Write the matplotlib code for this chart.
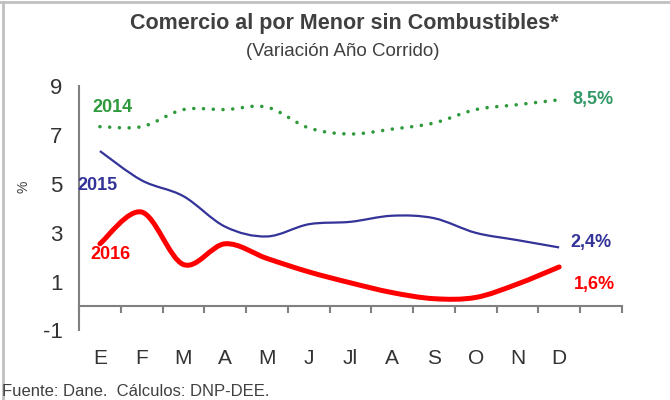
import matplotlib.pyplot as plt
import numpy as np
from matplotlib.path import Path
from matplotlib.patches import PathPatch
from matplotlib.lines import Line2D

plt.rcParams['font.family'] = ['Liberation Sans', 'DejaVu Sans']
plt.rcParams['axes.unicode_minus'] = False

meses = ['E', 'F', 'M', 'A', 'M', 'J', 'Jl', 'A', 'S', 'O', 'N', 'D']
v2014 = [7.35, 7.35, 8.05, 8.05, 8.15, 7.3, 7.05, 7.25, 7.5, 8.05, 8.25, 8.45]
v2015 = [6.35, 5.15, 4.5, 3.25, 2.85, 3.35, 3.45, 3.7, 3.6, 3.0, 2.7, 2.4]
v2016 = [2.55, 3.85, 1.7, 2.55, 1.95, 1.4, 0.95, 0.55, 0.3, 0.35, 0.9, 1.6]

verde = '#2f9a3c'
azul = '#333399'
rojo = '#ff0000'
gris = '#404040'


def curva_suave(y):
    # bezier tipo "linea suavizada" de excel
    x = np.arange(len(y), dtype=float)
    p = np.column_stack([x, np.asarray(y, dtype=float)])
    ext = np.vstack([p[0], p, p[-1]])
    verts = [p[0]]
    codes = [Path.MOVETO]
    for i in range(len(p) - 1):
        c1 = ext[i + 1] + (ext[i + 2] - ext[i]) / 6
        c2 = ext[i + 2] - (ext[i + 3] - ext[i + 1]) / 6
        verts += [c1, c2, ext[i + 2]]
        codes += [Path.CURVE4] * 3
    return Path(verts, codes)


fig = plt.figure(figsize=(6.7, 4), dpi=100)
ax = fig.add_axes([0.118, 0.174, 0.81, 0.61])

ax.add_patch(PathPatch(curva_suave(v2014), fill=False, edgecolor=verde, lw=2.6,
                       linestyle=(0, (0.001, 2.7)), capstyle='round'))
ax.add_patch(PathPatch(curva_suave(v2015), fill=False, edgecolor=azul, lw=1.6))
ax.add_patch(PathPatch(curva_suave(v2016), fill=False, edgecolor=rojo, lw=3.6,
                       capstyle='round'))

ax.set_xlim(-0.5, 12.5)
ax.set_ylim(-1, 9)
ax.set_yticks(np.arange(-1, 10, 2))
ax.tick_params(axis='y', length=0, pad=12, labelsize=16, labelcolor='#333333')

for s in ['top', 'right']:
    ax.spines[s].set_visible(False)
ax.spines['left'].set_color('#808080')
ax.spines['left'].set_linewidth(1.5)
ax.spines['bottom'].set_position(('data', 0))
ax.spines['bottom'].set_color('#808080')
ax.spines['bottom'].set_linewidth(1.5)

ax.set_xticks(np.arange(12))
ax.set_xticklabels(meses)
ax.set_xticks(np.arange(-0.5, 13, 1), minor=True)
ax.tick_params(axis='x', which='major', length=0, pad=31, labelsize=15,
               labelcolor='#333333')
ax.tick_params(axis='x', which='minor', length=5, width=1.5, color='#808080',
               direction='out')

fig.text(24 / 670, 1 - 187 / 400, '%', rotation=90, fontsize=10, color=gris,
         ha='center', va='center')

ax.text(0.31, 8.15, '2014', color=verde, fontsize=13, fontweight='bold',
        ha='center', va='center')
ax.text(-0.07, 4.92, '2015', color=azul, fontsize=13, fontweight='bold',
        ha='center', va='center')
ax.text(0.24, 2.1, '2016', color=rojo, fontsize=13, fontweight='bold',
        ha='center', va='center')
ax.text(11.8, 8.48, '8,5%', color='#339966', fontsize=13, fontweight='bold',
        ha='center', va='center')
ax.text(11.75, 2.62, '2,4%', color=azul, fontsize=13, fontweight='bold',
        ha='center', va='center')
ax.text(11.85, 0.9, '1,6%', color=rojo, fontsize=13, fontweight='bold',
        ha='center', va='center')

fig.text(0.514, 0.94, 'Comercio al por Menor sin Combustibles*', ha='center',
         va='center', fontsize=15.5, fontweight='bold', color=gris)
fig.text(0.511, 0.872, '(Variación Año Corrido)', ha='center', va='center',
         fontsize=13.5, color=gris)
fig.text(0.003, 0.02, 'Fuente: Dane.  Cálculos: DNP-DEE.', ha='left',
         va='center', fontsize=12, color=gris)

# marco gris arriba e izquierda
fig.add_artist(Line2D([0.004, 0.004], [0, 0.995], color='#c0c0c0', lw=2))
fig.add_artist(Line2D([0, 1], [0.995, 0.995], color='#c0c0c0', lw=2))

fig.savefig('out.png', dpi=100)
